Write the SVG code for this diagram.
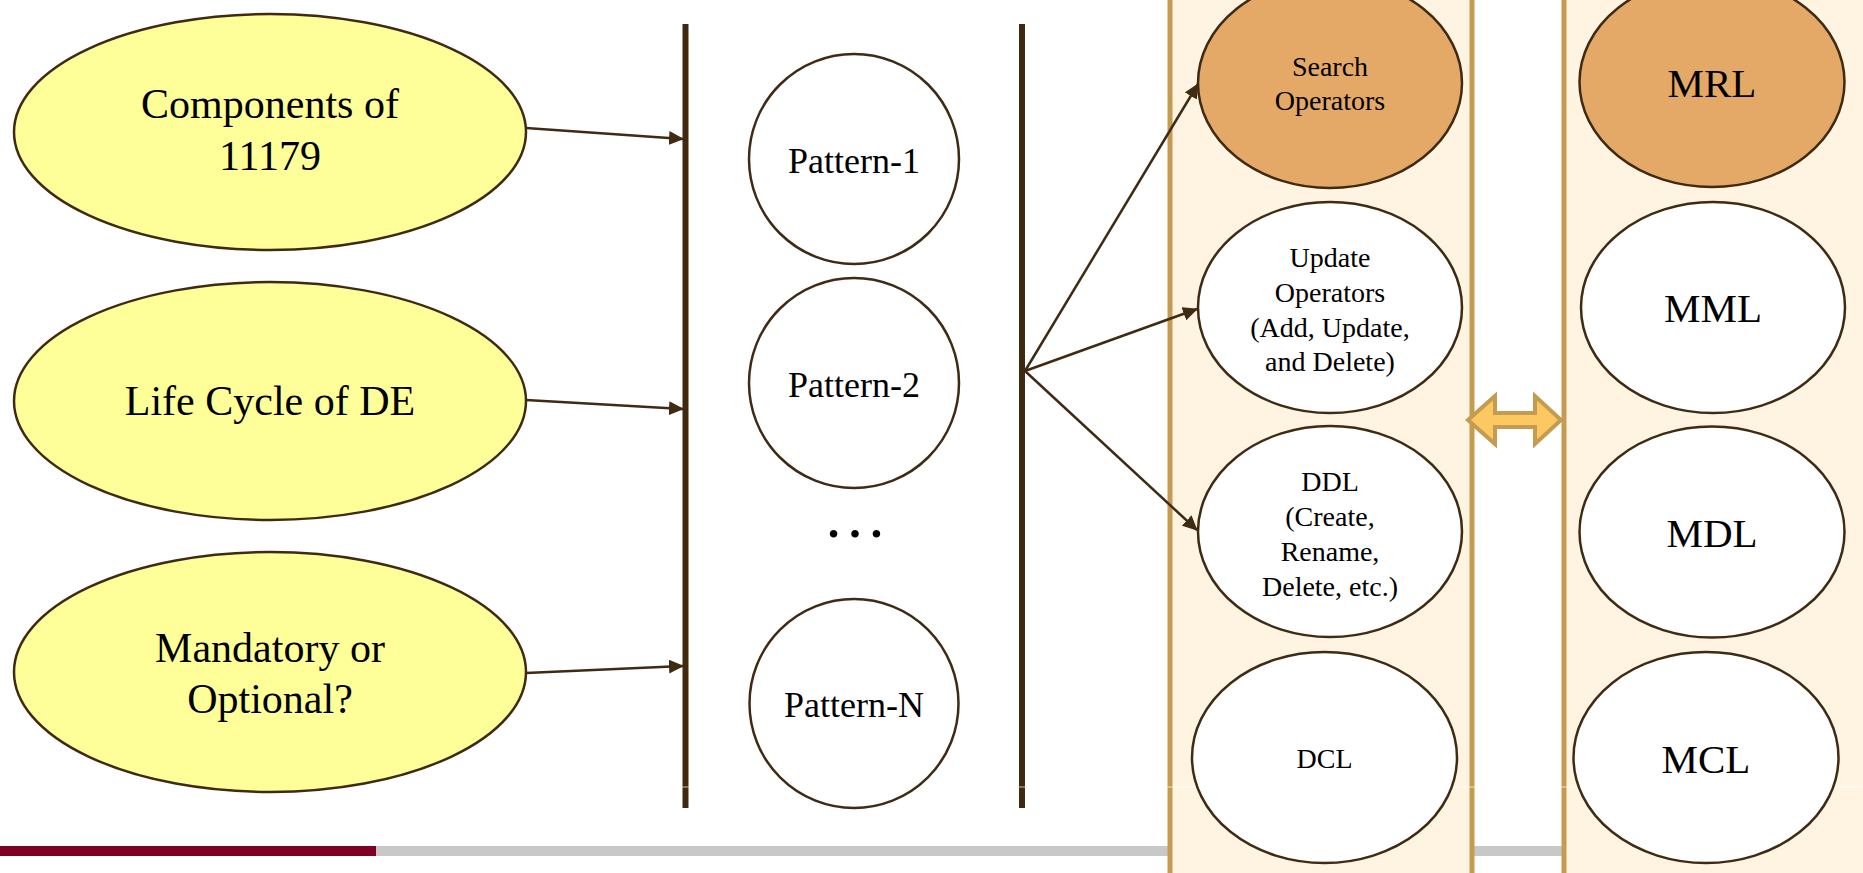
<svg xmlns="http://www.w3.org/2000/svg" width="1863" height="873" viewBox="0 0 1863 873">
<style>
  text { font-family: "Liberation Serif", "Times New Roman", serif; fill: #000; text-anchor: middle; }
  .big { font-size: 42px; }
  .pat { font-size: 36px; }
  .sm { font-size: 28px; }
  .m { font-size: 41px; }
  .node { stroke: #3f2a14; stroke-width: 2.5; }
  .yel { fill: #ffff99; }
  .wh { fill: #ffffff; }
  .org { fill: #e4a966; }
  .panel { fill: #fff4e1; stroke: #c49b50; stroke-width: 5; }
  .bar { fill: #40290f; }
  .conn { stroke: #3f2a14; stroke-width: 2.5; fill: none; marker-end: url(#ah); }
</style>
<defs>
  <marker id="ah" markerUnits="userSpaceOnUse" markerWidth="15" markerHeight="14" refX="14" refY="7" orient="auto">
    <path d="M0,0 L15,7 L0,14 z" fill="#3f2a14"/>
  </marker>
</defs>
<rect width="1863" height="873" fill="#ffffff"/>
<g id="footer">
  <rect x="376" y="846" width="1487" height="10" fill="#c8c8c8"/>
  <rect x="0" y="846" width="376" height="10" fill="#7b0024"/>
</g>
<g id="panel-left"><rect class="panel" x="1170" y="-10" width="302" height="893"/></g>
<g id="panel-right"><rect class="panel" x="1564" y="-10" width="320" height="893"/></g>
<g id="bar-left"><rect class="bar" x="682.5" y="24" width="6" height="784"/></g>
<g id="bar-mid"><rect class="bar" x="1019" y="24" width="6" height="784"/></g>
<line x1="600" y1="787" x2="1863" y2="787" stroke="#ffffff" stroke-width="1" opacity="0.7"/>

<g id="components"><ellipse class="node yel" cx="270" cy="132" rx="256" ry="118"/>
  <text class="big" x="270" y="118">Components of</text><text class="big" x="270" y="170">11179</text></g>
<g id="lifecycle"><ellipse class="node yel" cx="270" cy="401" rx="256" ry="119"/>
  <text class="big" x="270" y="415">Life Cycle of DE</text></g>
<g id="mandatory"><ellipse class="node yel" cx="270" cy="672" rx="256" ry="120"/>
  <text class="big" x="270" y="662">Mandatory or</text><text class="big" x="270" y="713">Optional?</text></g>

<g id="pattern1"><circle class="node wh" cx="854" cy="159" r="105"/><text class="pat" x="854" y="173">Pattern-1</text></g>
<g id="pattern2"><circle class="node wh" cx="854" cy="383" r="105"/><text class="pat" x="854" y="397">Pattern-2</text></g>
<g id="ellipsis"><text x="855" y="537" style="font-size:64px">…</text></g>
<g id="patternN"><circle class="node wh" cx="854" cy="703.5" r="104.5"/><text class="pat" x="854" y="717">Pattern-N</text></g>

<g id="search"><ellipse class="node org" cx="1330" cy="83" rx="132" ry="105"/>
  <text class="sm" x="1330" y="76">Search</text><text class="sm" x="1330" y="110">Operators</text></g>
<g id="update"><ellipse class="node wh" cx="1330" cy="307.5" rx="132" ry="105.5"/>
  <text class="sm" x="1330" y="267">Update</text><text class="sm" x="1330" y="302">Operators</text>
  <text class="sm" x="1330" y="337">(Add, Update,</text><text class="sm" x="1330" y="371">and Delete)</text></g>
<g id="ddl"><ellipse class="node wh" cx="1330" cy="531.5" rx="132" ry="105.5"/>
  <text class="sm" x="1330" y="491">DDL</text><text class="sm" x="1330" y="526">(Create,</text>
  <text class="sm" x="1330" y="561">Rename,</text><text class="sm" x="1330" y="596">Delete, etc.)</text></g>
<g id="dcl"><ellipse class="node wh" cx="1324.5" cy="757.5" rx="132.5" ry="105.5"/>
  <text class="sm" x="1324.5" y="768">DCL</text></g>

<g id="mrl"><ellipse class="node org" cx="1712" cy="82" rx="132.5" ry="105"/><text class="m" x="1712" y="97">MRL</text></g>
<g id="mml"><ellipse class="node wh" cx="1713" cy="307.5" rx="132" ry="105.5"/><text class="m" x="1713" y="322">MML</text></g>
<g id="mdl"><ellipse class="node wh" cx="1712" cy="532" rx="132.5" ry="105.5"/><text class="m" x="1712" y="547">MDL</text></g>
<g id="mcl"><ellipse class="node wh" cx="1706" cy="757.5" rx="132.5" ry="105.5"/><text class="m" x="1706" y="773">MCL</text></g>

<g id="connectors">
  <line class="conn" x1="526" y1="128" x2="683" y2="139"/>
  <line class="conn" x1="526" y1="400" x2="683" y2="409"/>
  <line class="conn" x1="526" y1="673" x2="683" y2="666"/>
  <line class="conn" x1="1025" y1="371" x2="1198" y2="84"/>
  <line class="conn" x1="1025" y1="371" x2="1197" y2="309"/>
  <line class="conn" x1="1025" y1="371" x2="1197" y2="530"/>
</g>
<g id="double-arrow">
  <polygon points="1468,420 1495,396 1495,413 1535,413 1535,396 1561,420 1535,444 1535,427 1495,427 1495,444" fill="#fcc862" stroke="#c49b50" stroke-width="4" stroke-linejoin="miter"/>
</g>
</svg>
